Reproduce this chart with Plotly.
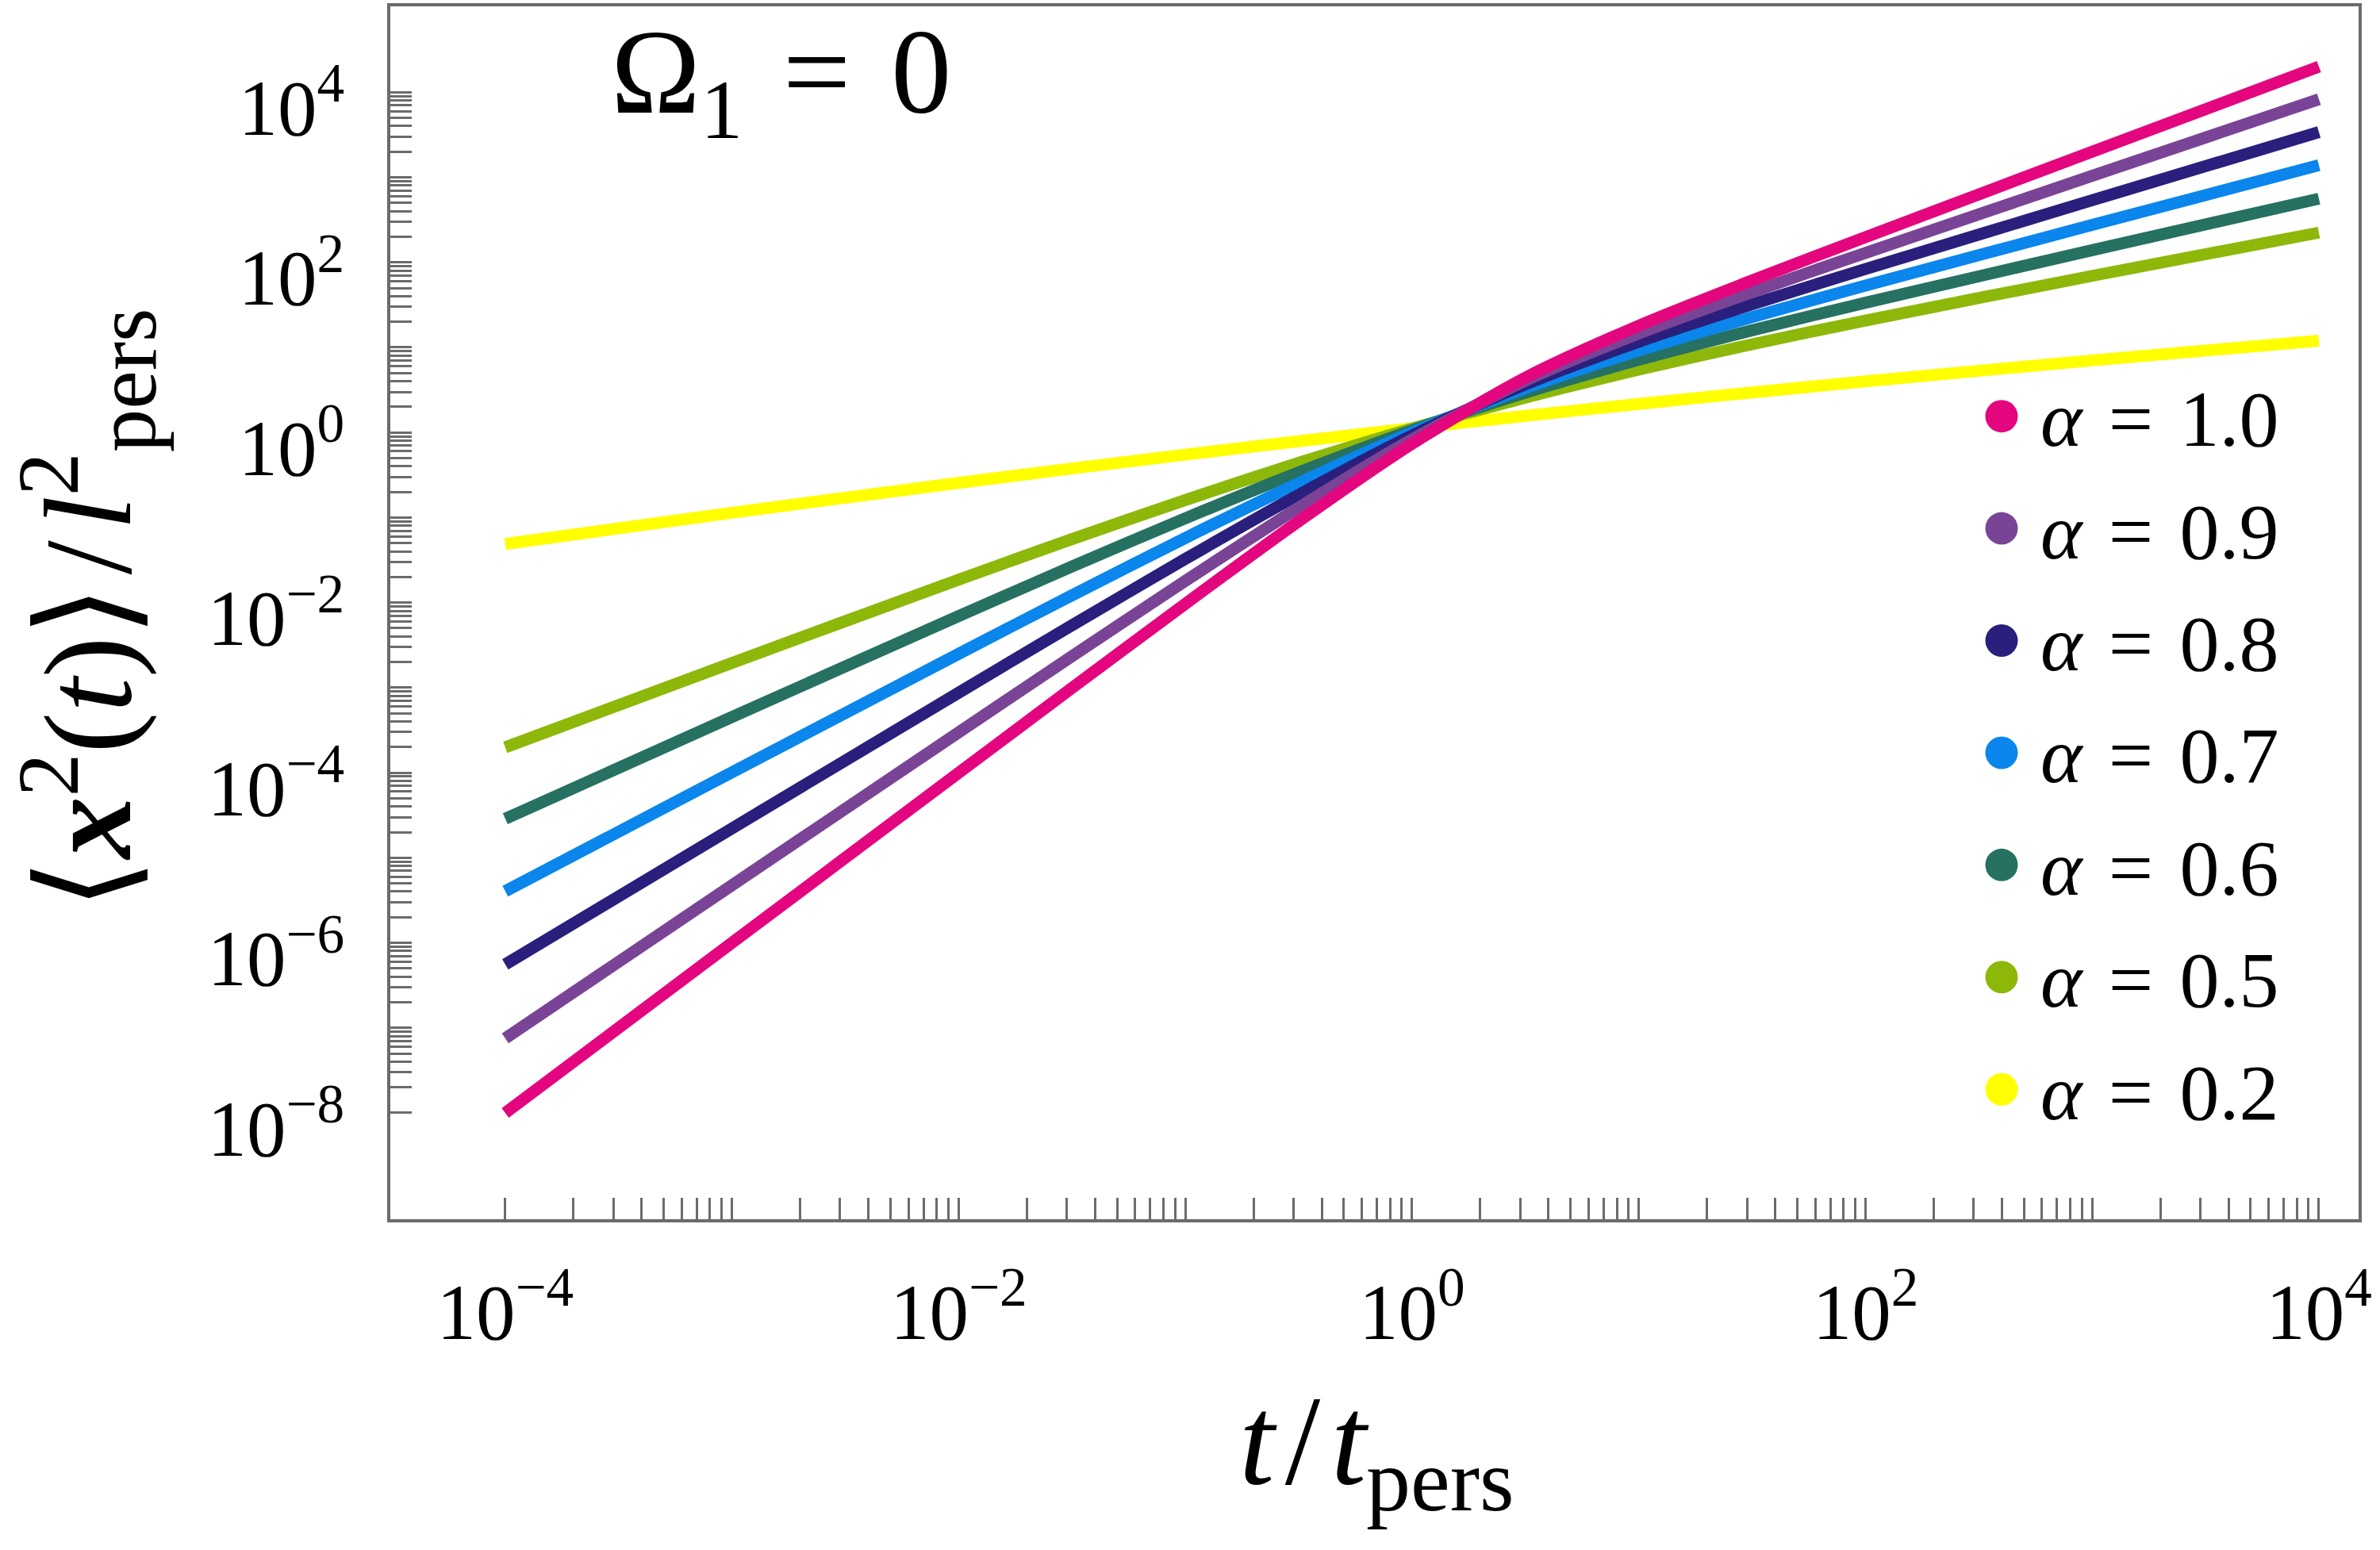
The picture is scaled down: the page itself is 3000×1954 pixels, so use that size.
import plotly.graph_objects as go

# ---------------- data ----------------
t_values = [0.0001, 0.001, 0.01, 0.03162, 0.1, 0.3162, 1, 3.162, 10, 31.62, 100, 1000, 10000]

alpha_labels = ["1.0", "0.9", "0.8", "0.7", "0.6", "0.5", "0.2"]

msd_a10 = [1.0e-8, 1.0e-6, 9.97e-5, 9.90e-4, 0.00967, 0.0902, 0.736, 4.41, 18.0, 61.2, 198, 1998, 19998]
msd_a09 = [7.53e-8, 4.75e-6, 2.978e-4, 2.338e-3, 0.01799, 0.1310, 0.832, 4.06, 14.55, 44.57, 129.2, 1040, 8276]
msd_a08 = [5.57e-7, 2.213e-5, 8.723e-4, 5.406e-3, 0.03262, 0.1851, 0.921, 3.68, 11.64, 32.06, 83.49, 537.4, 3401]
msd_a07 = [4.04e-6, 1.011e-4, 2.496e-3, 0.01217, 0.05749, 0.2544, 1.000, 3.31, 9.19, 22.76, 53.32, 275.1, 1387]
msd_a06 = [2.87e-5, 4.513e-4, 6.938e-3, 0.02655, 0.09799, 0.3395, 1.065, 2.94, 7.15, 15.90, 33.54, 139.25, 560.3]
msd_a05 = [1.985e-4, 1.953e-3, 0.01859, 0.05569, 0.1608, 0.4392, 1.112, 2.576, 5.478, 10.89, 20.68, 69.40, 223.7]
msd_a02 = [0.04889, 0.1137, 0.2553, 0.3765, 0.5486, 0.7892, 1.120, 1.568, 2.167, 2.958, 3.989, 7.031, 11.99]

series_values = [msd_a10, msd_a09, msd_a08, msd_a07, msd_a06, msd_a05, msd_a02]
series_colors = ["#E4067E", "#7A4496", "#2A1F7D", "#0A86EC", "#267162", "#8DB80A", "#FFFF00"]

x_major_labels = {-4: "10<sup>\u22124</sup>", -2: "10<sup>\u22122</sup>", 0: "10<sup>0</sup>",
                  2: "10<sup>2</sup>", 4: "10<sup>4</sup>"}
y_major_labels = {-8: "10<sup>\u22128</sup>", -6: "10<sup>\u22126</sup>", -4: "10<sup>\u22124</sup>",
                  -2: "10<sup>\u22122</sup>", 0: "10<sup>0</sup>", 2: "10<sup>2</sup>", 4: "10<sup>4</sup>"}

# ---------------- style ----------------
GRAY = "#6b6b6b"
FONT = "Liberation Serif"
W, H = 3000, 1954
ML, MR, MT, MB = 492, 27, 4, 417
PW, PH = W - ML - MR, H - MT - MB
TICK = dict(ticks="inside", ticklen=27, tickwidth=3, tickcolor=GRAY)


def log_ticks(kmin, kmax, labels):
    """major ticks = labelled decades, minor ticks = every other m*10^k"""
    major_v, major_t, minor_v = [], [], []
    for k in range(kmin, kmax + 1):
        for m in range(1, 10):
            if k == kmax and m > 1:
                break
            v = m * 10.0 ** k
            if m == 1 and k in labels:
                major_v.append(v)
                major_t.append(labels[k])
            else:
                minor_v.append(v)
    return major_v, major_t, minor_v


x_tickvals, x_ticktext, x_minor = log_ticks(-4, 4, x_major_labels)
y_tickvals, y_ticktext, y_minor = log_ticks(-8, 4, y_major_labels)

fig = go.Figure()

# draw yellow first, pink last (on top)
for vals, col, lab in reversed(list(zip(series_values, series_colors, alpha_labels))):
    fig.add_trace(go.Scatter(
        x=t_values, y=vals, mode="lines", name="\u03b1 = " + lab,
        line=dict(color=col, width=15, shape="spline", smoothing=0.8),
        showlegend=False, hoverinfo="skip"))


def px_to_paper_x(px):
    return (px - ML) / PW


def px_to_paper_y(py):
    return (H - MB - py) / PH


annotations = []
shapes = []

# legend (dots + text)
for i, (lab, col) in enumerate(zip(alpha_labels, series_colors)):
    yc = 522 + 141.8 * i
    shapes.append(dict(type="circle", xref="paper", yref="paper",
                       xsizemode="pixel", ysizemode="pixel",
                       xanchor=px_to_paper_x(2523), yanchor=px_to_paper_y(yc),
                       x0=-20.5, x1=20.5, y0=-20.5, y1=20.5,
                       fillcolor=col, line=dict(width=0)))
    annotations.append(dict(xref="paper", yref="paper",
                            x=px_to_paper_x(2570), y=px_to_paper_y(yc + 4),
                            xanchor="left", yanchor="middle", showarrow=False,
                            text="<i>\u03b1</i>\u2004=\u2004" + lab,
                            font=dict(family=FONT, size=100, color="black")))

# Omega label
annotations.append(dict(xref="paper", yref="paper",
                        x=px_to_paper_x(768), y=px_to_paper_y(98),
                        xanchor="left", yanchor="middle", showarrow=False,
                        text="\u03a9<sub>1</sub>\u2004=\u20040",
                        font=dict(family=FONT, size=152, color="black")))

# axis titles
annotations.append(dict(xref="paper", yref="paper",
                        x=px_to_paper_x(1735), y=px_to_paper_y(1828),
                        xanchor="center", yanchor="middle", showarrow=False,
                        text="<i>t</i>\u200a/\u200a<i>t</i><sub>pers</sub>",
                        font=dict(family=FONT, size=160, color="black")))
annotations.append(dict(xref="paper", yref="paper",
                        x=px_to_paper_x(110), y=px_to_paper_y(766),
                        xanchor="center", yanchor="middle", showarrow=False, textangle=-90,
                        text=("<span style='font-family:DejaVu Serif;font-size:166px'>\u27e8</span>"
                              "<b><i>x</i></b><sup>2</sup>(<i>t</i>)"
                              "<span style='font-family:DejaVu Serif;font-size:166px'>\u27e9</span>"
                              "\u200a/\u200a<i>l</i><sup>2</sup><sub>pers</sub>"),
                        font=dict(family=FONT, size=156, color="black")))

axis_common = dict(type="log", showline=True, linecolor=GRAY, linewidth=4, mirror=True,
                   showgrid=False, zeroline=False,
                   tickfont=dict(family=FONT, size=99, color="black"), **TICK)

fig.update_layout(
    width=W, height=H,
    margin=dict(l=ML, r=MR, t=MT, b=MB),
    plot_bgcolor="white", paper_bgcolor="white",
    showlegend=False,
    font=dict(family=FONT, color="black"),
    xaxis=dict(range=[-4.507, 4.175], tickmode="array", tickvals=x_tickvals, ticktext=x_ticktext,
               minor=dict(tickmode="array", tickvals=x_minor, showgrid=False, **TICK),
               ticklabelstandoff=28, **axis_common),
    yaxis=dict(range=[-9.25, 5.01], tickmode="array", tickvals=y_tickvals, ticktext=y_ticktext,
               minor=dict(tickmode="array", tickvals=y_minor, showgrid=False, **TICK),
               ticklabelstandoff=34, ticklabelshift=19, **axis_common),
    annotations=annotations,
    shapes=shapes,
)

fig.write_html("out.html", config={"displayModeBar": False},
               post_script="document.body.style.margin='0px';document.body.style.overflow='hidden';")
